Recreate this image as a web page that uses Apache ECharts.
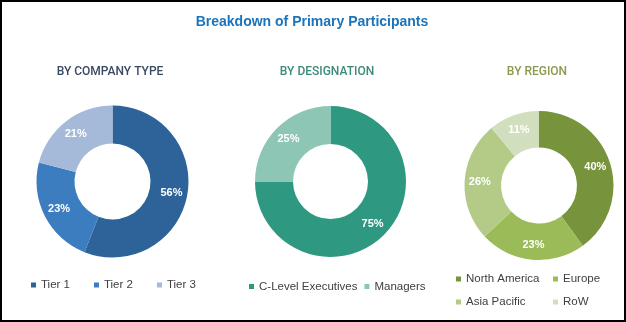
<!DOCTYPE html>
<html><head><meta charset="utf-8">
<script src="https://cdn.jsdelivr.net/npm/echarts@6/dist/echarts.min.js"></script>
<style>
html,body{margin:0;padding:0;background:#fff;}
#c{position:absolute;left:0;top:0;width:626px;height:322px;}
#frame{position:absolute;left:0;top:0;width:626px;height:322px;box-sizing:border-box;border:2px solid #000;pointer-events:none;}
</style></head><body>
<div id="c"></div>
<div id="frame"></div>
<script>
const companyTypes = ['Tier 1', 'Tier 2', 'Tier 3'];
const companyValues = [56, 23, 21];
const designations = ['C-Level Executives', 'Managers'];
const designationValues = [75, 25];
const regions = ['North America', 'Europe', 'Asia Pacific', 'RoW'];
const regionValues = [40, 23, 26, 11];

const companyColors = ['#2e6399', '#3b7dbf', '#a5b9d8'];
const designationColors = ['#2f9881', '#8dc6b4'];
const regionColors = ['#77933c', '#9bbb59', '#b3cb87', '#d2dfbf'];

const SANS = "'Liberation Sans', Arial, sans-serif";
const SUB = "Roboto, 'Liberation Sans', sans-serif";

function toData(names, values, colors) {
  return names.map((n, i) => ({ name: n, value: values[i], itemStyle: { color: colors[i] } }));
}
const labelCfg = {
  show: true, position: 'inside', formatter: '{c}%', color: '#fff',
  fontSize: 11, fontWeight: 'bold', fontFamily: SANS
};
const legendText = { color: '#404040', fontSize: 11.5, fontFamily: SANS };
const legendBase = { itemWidth: 5, itemHeight: 5, icon: 'rect', padding: 0,
  textStyle: legendText, selectedMode: false };

const chart = echarts.init(document.getElementById('c'));
chart.setOption({
  animation: false,
  title: [
    { text: 'Breakdown of Primary Participants', left: 312, top: 15, textAlign: 'center', padding: 0,
      textStyle: { color: '#1b74bb', fontSize: 14, fontWeight: 'bold', fontFamily: SANS } },
    { text: 'BY COMPANY TYPE', left: 110, top: 65.5, textAlign: 'center', padding: 0,
      textStyle: { color: '#3b4a63', fontSize: 12, fontWeight: 500, fontFamily: SUB } },
    { text: 'BY DESIGNATION', left: 327, top: 65.5, textAlign: 'center', padding: 0,
      textStyle: { color: '#3b8a7a', fontSize: 12, fontWeight: 500, fontFamily: SUB } },
    { text: 'BY REGION', left: 537, top: 65.5, textAlign: 'center', padding: 0,
      textStyle: { color: '#8a9a4e', fontSize: 12, fontWeight: 500, fontFamily: SUB } }
  ],
  legend: [
    Object.assign({ data: companyTypes, left: 31, top: 279, itemGap: 24 }, legendBase),
    Object.assign({ data: designations, left: 249, top: 280.5, itemGap: 7 }, legendBase),
    Object.assign({ data: ['North America', 'Asia Pacific'], orient: 'vertical', left: 456, top: 273, itemGap: 11 }, legendBase),
    Object.assign({ data: ['Europe', 'RoW'], orient: 'vertical', left: 553, top: 273, itemGap: 11 }, legendBase)
  ],
  series: [
    { type: 'pie', center: [112.5, 181.5], radius: [38, 76], startAngle: 90, clockwise: true,
      data: toData(companyTypes, companyValues, companyColors), label: labelCfg,
      labelLine: { show: false }, emphasis: { disabled: true } },
    { type: 'pie', center: [330.5, 181.5], radius: [37.5, 75.5], startAngle: 90, clockwise: true,
      data: toData(designations, designationValues, designationColors), label: labelCfg,
      labelLine: { show: false }, emphasis: { disabled: true } },
    { type: 'pie', center: [539, 185.5], radius: [38, 74.5], startAngle: 90, clockwise: true,
      data: toData(regions, regionValues, regionColors), label: labelCfg,
      labelLine: { show: false }, emphasis: { disabled: true } }
  ]
});
</script>
</body></html>
